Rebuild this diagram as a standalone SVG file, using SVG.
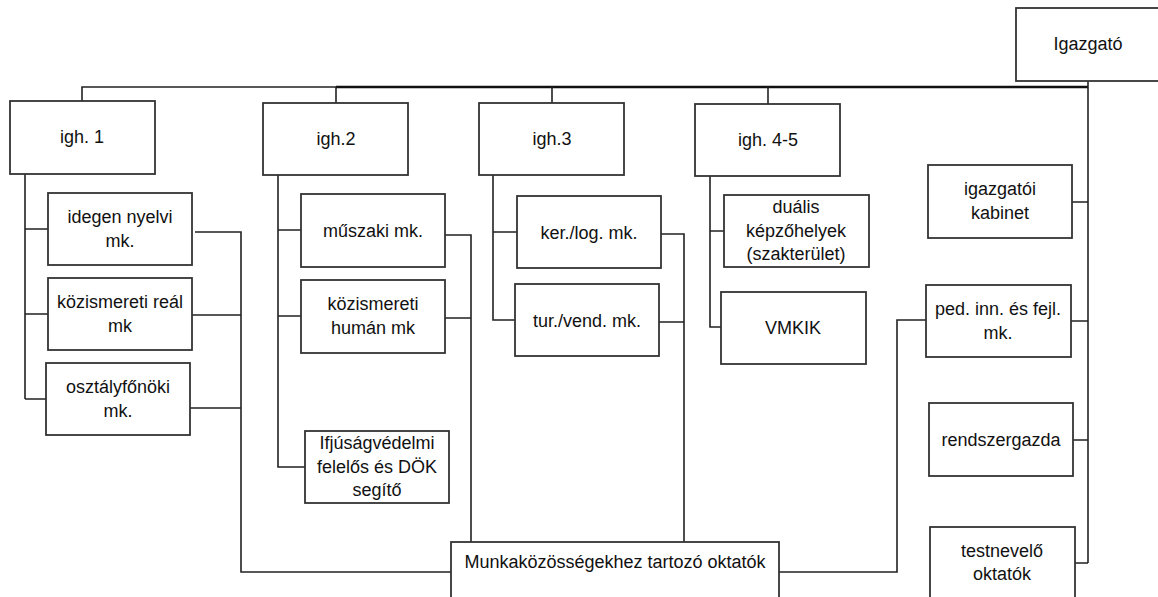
<svg xmlns="http://www.w3.org/2000/svg" width="1158" height="597" viewBox="0 0 1158 597">
<style>
.box{fill:#fff;stroke:#333;stroke-width:1.8}
.ln{fill:none;stroke:#222;stroke-width:1.6}
.thick{fill:none;stroke:#111;stroke-width:2.6}
text{font-family:"Liberation Sans",Arial,sans-serif;font-size:18px;fill:#111;text-anchor:middle}
</style>
<rect width="1158" height="597" fill="#fff"/>
<g id="connectors">
<path class="ln" d="M82 101V87H336"/>
<path class="thick" d="M336 87H1088"/>
<path class="ln" d="M336 87V103M552 87V103M768 87V104"/>
<path class="ln" d="M1088 81V563"/>
<path class="ln" d="M1072 202H1088M1071 321H1088M1073 440H1088M1075 563H1088"/>
<path class="ln" d="M25 174V399M25 229H48M25 314H48M25 399H46"/>
<path class="ln" d="M195 232H241V572H451M192 315H241M190 408H241"/>
<path class="ln" d="M278 175V467H305M278 230H301M278 316H301"/>
<path class="ln" d="M445 235H471V542M445 318H471"/>
<path class="ln" d="M493 175V320H515M493 232H517"/>
<path class="ln" d="M661 234H684V542M659 322H684"/>
<path class="ln" d="M710 176V327H721M710 231H724"/>
<path class="ln" d="M926 320H897V572H779"/>
</g>
<g id="igazgato"><rect class="box" x="1016" y="8" width="144" height="73"/><text x="1088" y="50">Igazgató</text></g>
<g id="igh1"><rect class="box" x="10" y="101" width="145" height="73"/><text x="82" y="143">igh. 1</text></g>
<g id="igh2"><rect class="box" x="263" y="103" width="145" height="72"/><text x="336" y="145">igh.2</text></g>
<g id="igh3"><rect class="box" x="479" y="103" width="145" height="72"/><text x="552" y="145">igh.3</text></g>
<g id="igh45"><rect class="box" x="695" y="104" width="145" height="72"/><text x="768" y="146">igh. 4-5</text></g>
<g id="idegen"><rect class="box" x="48" y="193" width="144" height="72"/><text x="120" y="223">idegen nyelvi</text><text x="120" y="247">mk.</text></g>
<g id="real"><rect class="box" x="48" y="278" width="144" height="72"/><text x="120" y="308">közismereti reál</text><text x="120" y="332">mk</text></g>
<g id="osztaly"><rect class="box" x="46" y="363" width="144" height="72"/><text x="118" y="393">osztályfőnöki</text><text x="118" y="417">mk.</text></g>
<g id="muszaki"><rect class="box" x="301" y="194" width="144" height="73"/><text x="373" y="237">műszaki mk.</text></g>
<g id="human"><rect class="box" x="301" y="280" width="144" height="73"/><text x="373" y="310">közismereti</text><text x="373" y="334">humán mk</text></g>
<g id="ifjusag"><rect class="box" x="305" y="431" width="144" height="72"/><text x="377" y="449">Ifjúságvédelmi</text><text x="377" y="473">felelős és DÖK</text><text x="377" y="496">segítő</text></g>
<g id="ker"><rect class="box" x="517" y="196" width="144" height="72"/><text x="589" y="239">ker./log. mk.</text></g>
<g id="tur"><rect class="box" x="515" y="284" width="144" height="72"/><text x="587" y="327">tur./vend. mk.</text></g>
<g id="dualis"><rect class="box" x="724" y="195" width="145" height="72"/><text x="796" y="213">duális</text><text x="796" y="237">képzőhelyek</text><text x="796" y="260">(szakterület)</text></g>
<g id="vmkik"><rect class="box" x="721" y="292" width="145" height="72"/><text x="793" y="334">VMKIK</text></g>
<g id="kabinet"><rect class="box" x="928" y="165" width="144" height="73"/><text x="1000" y="195">igazgatói</text><text x="1000" y="219">kabinet</text></g>
<g id="ped"><rect class="box" x="926" y="285" width="145" height="72"/><text x="998" y="315">ped. inn. és fejl.</text><text x="998" y="339">mk.</text></g>
<g id="rendszergazda"><rect class="box" x="929" y="403" width="144" height="73"/><text x="1001" y="446">rendszergazda</text></g>
<g id="testnevelo"><rect class="box" x="930" y="527" width="145" height="80"/><text x="1002" y="557">testnevelő</text><text x="1002" y="580">oktatók</text></g>
<g id="munka"><rect class="box" x="451" y="542" width="328" height="70"/><text x="615" y="568">Munkaközösségekhez tartozó oktatók</text></g>
</svg>
